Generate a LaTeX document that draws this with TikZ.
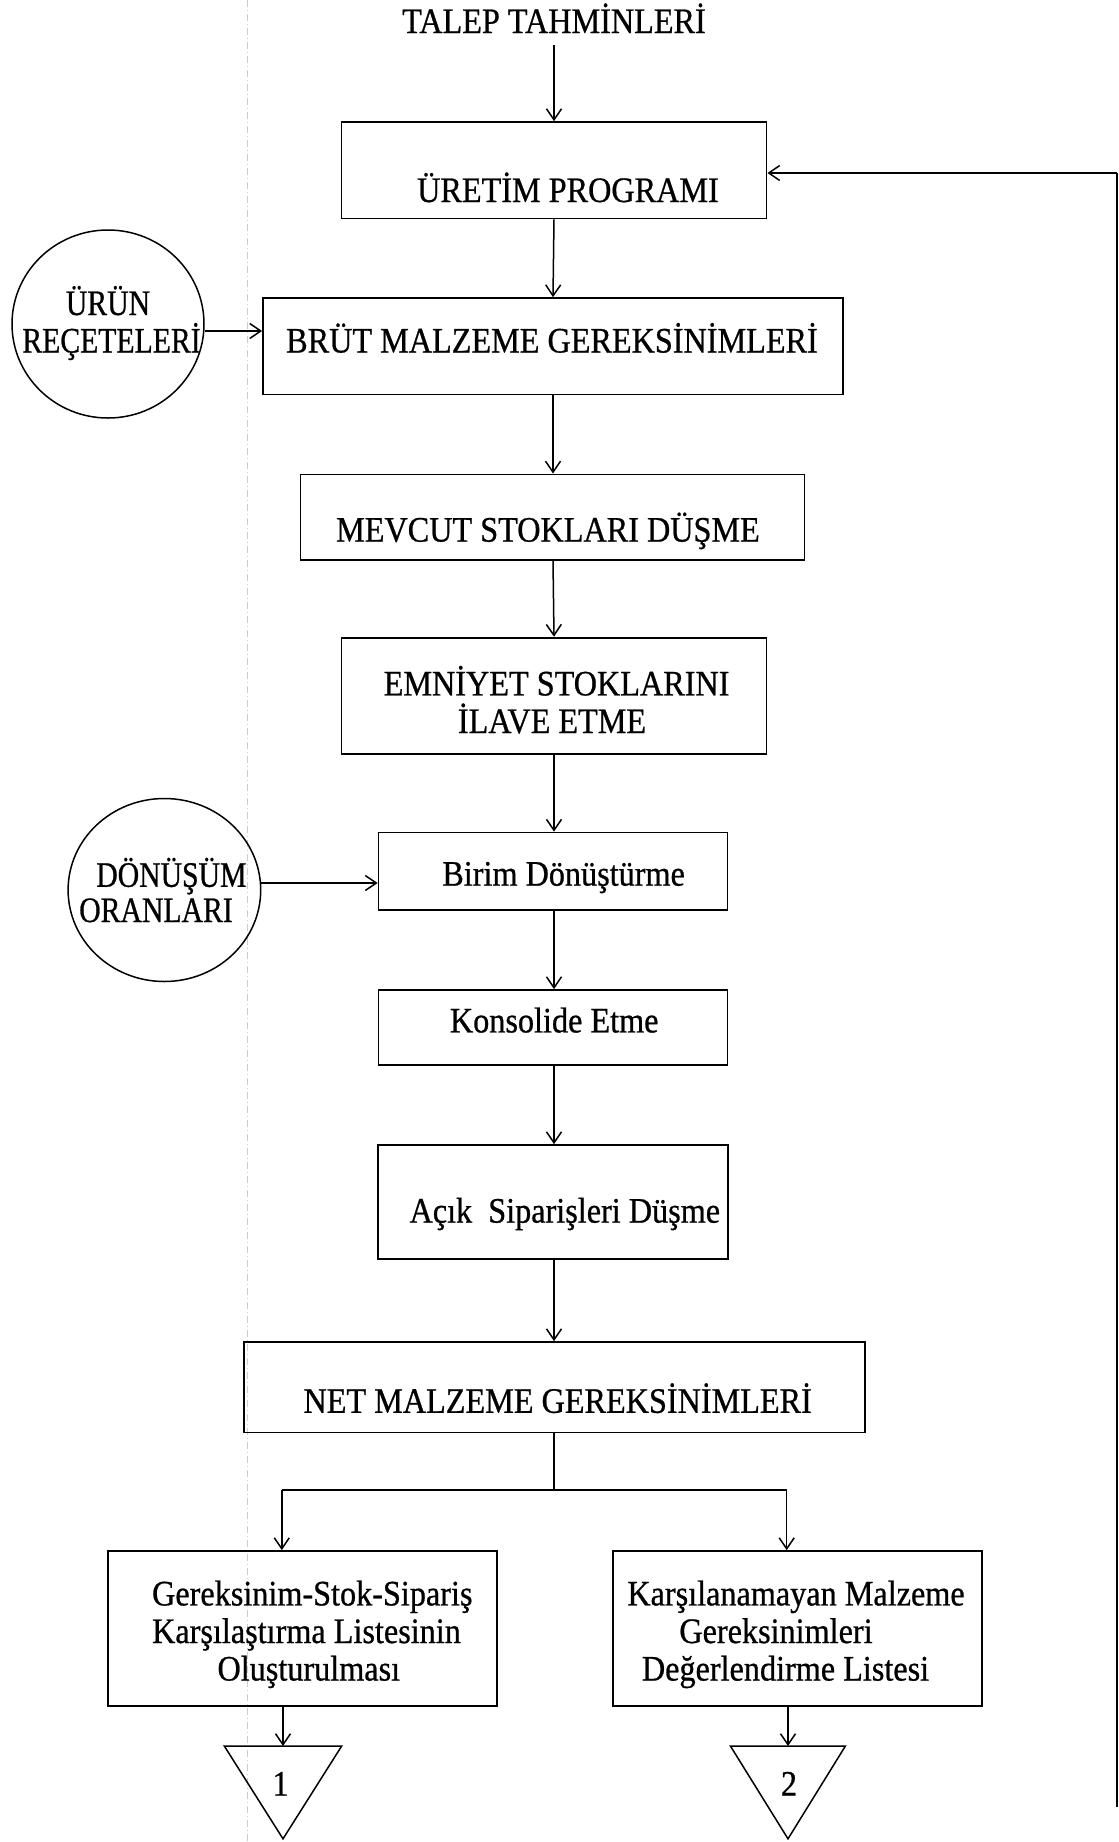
\documentclass[tikz,border=0pt]{standalone}
\usepackage{fontspec}
\setmainfont{Liberation Serif}[FakeStretch=0.9, FakeBold=0.7]
\newfontfamily\ovalfont{Liberation Serif}[FakeStretch=0.83, FakeBold=0.7]
\usetikzlibrary{arrows.meta,shapes.geometric}

\begin{document}
\begin{tikzpicture}[
  x=1pt, y=-1pt,
  box/.style={draw, line width=1.8pt, rectangle, inner sep=0pt},
  oval/.style={draw, line width=1.5pt, ellipse, inner sep=0pt},
  txt/.style={anchor=base, inner sep=0pt, font=\fontsize{35.8pt}{37.6pt}\selectfont},
  otxt/.style={anchor=base, inner sep=0pt, font=\ovalfont\fontsize{35.8pt}{37.6pt}\selectfont},
  arr/.style={line width=1.5pt, -{Straight Barb[length=11pt,width=15pt,line width=1.5pt]}},
  link/.style={line width=1.5pt},
]
\useasboundingbox (0,0) rectangle (1119,1842);

% faint fold mark running down the sheet
\draw[gray!40, line width=0.7pt, dash pattern=on 7pt off 3pt on 1pt off 3pt] (247,0) -- (247,1842);

% process boxes
\node[box, minimum width=425pt, minimum height=96.5pt]  (uretim)    at (554,170.3)  {};
\node[box, minimum width=580pt, minimum height=96.5pt]  (brut)      at (553,346.3)  {};
\node[box, minimum width=504pt, minimum height=85.6pt]  (mevcut)    at (552.5,517.2) {};
\node[box, minimum width=425pt, minimum height=116.2pt] (emniyet)   at (554,695.7)  {};
\node[box, minimum width=349pt, minimum height=77.5pt]  (birim)     at (553,871.3)  {};
\node[box, minimum width=349pt, minimum height=75pt]    (konsolide) at (553,1027.5) {};
\node[box, minimum width=350pt, minimum height=113.7pt] (acik)      at (553,1201.9) {};
\node[box, minimum width=621pt, minimum height=90.5pt]  (net)       at (554.8,1387.3) {};
\node[box, minimum width=388.7pt, minimum height=155pt] (liste1)    at (302.3,1628.5) {};
\node[box, minimum width=369pt, minimum height=155pt]   (liste2)    at (797.5,1628.5) {};

% input ovals
\node[oval, minimum width=192pt, minimum height=188pt] (urun) at (108,324) {};
\node[oval, minimum width=192.6pt, minimum height=183pt] (donusum) at (164.4,890) {};

% texts
\node[txt] (talep) at (554,33) {TALEP TAHMİNLERİ};
\node[txt] (t-uretim) at (568,202) {ÜRETİM PROGRAMI};
\node[txt] (t-brut) at (552,352.5) {BRÜT MALZEME GEREKSİNİMLERİ};
\node[otxt] (t-urun1) at (108,315) {ÜRÜN};
\node[otxt] (t-urun2) at (111.5,352.5) {REÇETELERİ};
\node[txt] (t-mevcut) at (548,541.6) {MEVCUT STOKLARI DÜŞME};
\node[txt] (t-emn1) at (556.6,695.4) {EMNİYET STOKLARINI};
\node[txt] (t-emn2) at (552,733) {İLAVE ETME};
\node[otxt] (t-don1) at (171.4,886.8) {DÖNÜŞÜM};
\node[otxt] (t-don2) at (156,922) {ORANLARI};
\node[txt] (t-birim) at (563.6,885.6) {Birim Dönüştürme};
\node[txt] (t-kons) at (554.2,1032.4) {Konsolide Etme};
\node[txt] (t-acik) at (564.8,1222.6) {Açık~~Siparişleri Düşme};
\node[txt] (t-net) at (557.7,1412.8) {NET MALZEME GEREKSİNİMLERİ};
\node[txt] (t-l1a) at (312.3,1605.4) {Gereksinim-Stok-Sipariş};
\node[txt] (t-l1b) at (306.5,1643) {Karşılaştırma Listesinin};
\node[txt] (t-l1c) at (308.8,1680.5) {Oluşturulması};
\node[txt] (t-l2a) at (796,1605.4) {Karşılanamayan Malzeme};
\node[txt] (t-l2b) at (776,1643) {Gereksinimleri};
\node[txt] (t-l2c) at (785.5,1680.5) {Değerlendirme Listesi};

% off-page connectors
\coordinate (tri1) at (283,1746);
\coordinate (tri2) at (788,1746);
\draw[line width=1.5pt, line join=miter] (224.3,1746) -- (341.7,1746) -- (283,1838.8) -- cycle;
\draw[line width=1.5pt, line join=miter] (730.4,1746) -- (845.4,1746) -- (788,1838.8) -- cycle;
\node[txt] (t-1) at (280.6,1795.6) {1};
\node[txt] (t-2) at (789,1795.6) {2};

% main flow
\draw[arr] (554,44.6) -- (uretim.north);
\draw[arr] (uretim.south) -- (brut.north);
\draw[arr] (brut.south) -- (mevcut.north -| brut.south);
\draw[arr] (mevcut.south -| brut.south) -- (emniyet.north);
\draw[arr] (emniyet.south) -- (birim.north -| emniyet.south);
\draw[arr] (birim.south -| emniyet.south) -- (konsolide.north -| emniyet.south);
\draw[arr] (konsolide.south -| emniyet.south) -- (acik.north -| emniyet.south);
\draw[arr] (acik.south -| emniyet.south) -- (net.north -| emniyet.south);

% side inputs
\draw[arr] ([yshift=-7pt]urun.east) -- ([yshift=-7pt]urun.east -| brut.west);
\draw[arr] ([yshift=7pt]donusum.east) -- ([yshift=7pt]donusum.east -| birim.west);

% split to the two lists
\coordinate (split) at (554,1490);
\coordinate (splitL) at (281.8,1490);
\coordinate (splitR) at (786.7,1490);
\draw[link] (net.south -| split) -- (split);
\draw[link] (splitL) -- (splitR);
\draw[arr] (splitL) -- (liste1.north -| splitL);
\draw[arr] (splitR) -- (liste2.north -| splitR);
\draw[arr] (liste1.south -| tri1) -- (tri1);
\draw[arr] (liste2.south -| tri2) -- (tri2);

% feedback line into the production programme
\coordinate (fb) at (1117,1807);
\draw[line width=2.6pt] (fb) -- (1117,173);
\draw[arr] (1117,173) -- (uretim.east |- 0,173);
\end{tikzpicture}
\end{document}
